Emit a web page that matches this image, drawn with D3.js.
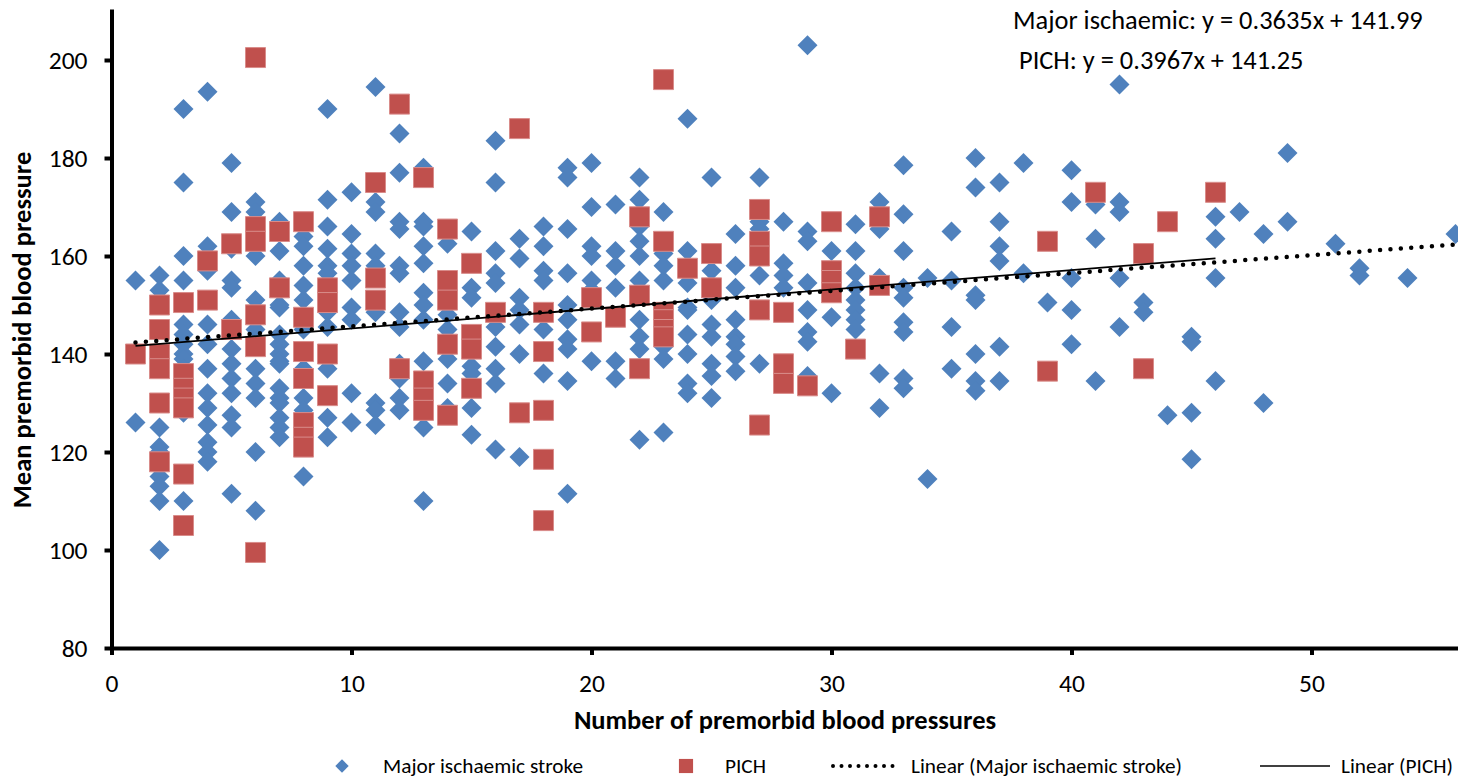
<!DOCTYPE html>
<html>
<head>
<meta charset="utf-8">
<script src="https://cdn.jsdelivr.net/npm/d3@7"></script>
<style>
  body { margin: 0; background: #fff; }
  svg text { font-family: Carlito, "Noto Sans", "Open Sans", sans-serif; fill: #000; }
</style>
</head>
<body>
<svg id="chart" width="1458" height="780"></svg>
<script>
// Major ischaemic stroke: [number of readings, mean BP]
const majorIschaemic = [
  [1,155],[1,126],
  [2,156],[2,153],[2,125],[2,121],[2,120],[2,115],[2,113],[2,110],[2,100],
  [3,190],[3,175],[3,160],[3,155],[3,146],[3,144],[3,142],[3,140],[3,139],[3,137],[3,128],[3,110],
  [4,193.5],[4,162],[4,157],[4,146],[4,142],[4,137],[4,132],[4,129],[4,125.5],[4,122],[4,120],[4,118],
  [5,179],[5,169],[5,161.5],[5,155],[5,153.5],[5,147],[5,141],[5,138],[5,135],[5,132],[5,127.5],[5,125],[5,111.5],
  [6,171],[6,169],[6,160],[6,151],[6,147],[6,145],[6,137],[6,134],[6,131],[6,120],[6,108],
  [7,167],[7,161],[7,155],[7,150],[7,149.5],[7,144],[7,142],[7,140],[7,138.5],[7,138],[7,133],[7,131],[7,130],[7,127],[7,125],[7,123],
  [8,164],[8,162],[8,158],[8,154],[8,151],[8,145],[8,137],[8,131],[8,128.5],[8,115],
  [9,190],[9,171.5],[9,166],[9,161.5],[9,158],[9,156.5],[9,148.5],[9,145.5],[9,137],[9,127],[9,123],
  [10,173],[10,164.5],[10,160.5],[10,158],[10,155],[10,149.5],[10,147],[10,132],[10,126],
  [11,194.5],[11,171],[11,169],[11,160.5],[11,158],[11,148.5],[11,130],[11,128.5],[11,125.5],
  [12,185],[12,177],[12,167],[12,165.5],[12,158],[12,156.5],[12,148.5],[12,145.5],[12,138],[12,135],[12,131],[12,128.5],
  [13,178],[13,167],[13,166],[13,162],[13,158.5],[13,152.5],[13,150],[13,147],[13,138.5],[13,125],[13,110],
  [14,162.5],[14,148],[14,145],[14,139],[14,134],[14,129],
  [15,165],[15,153.5],[15,151.5],[15,137.5],[15,136],[15,129],[15,123.5],
  [16,183.5],[16,175],[16,161],[16,156.5],[16,154.5],[16,145.5],[16,141.5],[16,137],[16,134],[16,120.5],
  [17,163.5],[17,159.5],[17,151.5],[17,149],[17,146],[17,140],[17,119],
  [18,166],[18,162],[18,157],[18,155],[18,145],[18,136],
  [19,178],[19,176],[19,165.5],[19,156.5],[19,150],[19,147],[19,143],[19,141],[19,134.5],[19,111.5],
  [20,179],[20,170],[20,162],[20,160],[20,155],[20,153],[20,138.5],
  [21,170.5],[21,161],[21,158],[21,153.5],[21,138.5],[21,135],
  [22,176],[22,171.5],[22,166],[22,163],[22,160],[22,155],[22,147],[22,143.5],[22,141],[22,122.5],
  [23,169],[23,160.5],[23,158],[23,155],[23,141.5],[23,139],[23,124],
  [24,188],[24,161],[24,154.5],[24,149.5],[24,149],[24,144],[24,140],[24,134],[24,132],
  [25,176],[25,157],[25,151],[25,146],[25,143.5],[25,138],[25,135.5],[25,131],
  [26,164.5],[26,158],[26,153.5],[26,147],[26,143.5],[26,142],[26,139.5],[26,136.5],
  [27,176],[27,167],[27,165.5],[27,156],[27,138],
  [28,167],[28,158.5],[28,156],[28,153.5],
  [29,203],[29,165],[29,163],[29,154.5],[29,149],[29,144.5],[29,142.5],[29,135.5],
  [30,161],[30,147.5],[30,132],
  [31,166.5],[31,161],[31,156.5],[31,153.5],[31,151],[31,149],[31,147],[31,145],
  [32,171],[32,165.5],[32,155.5],[32,136],[32,129],
  [33,178.5],[33,168.5],[33,161],[33,153.5],[33,151.5],[33,146.5],[33,144.5],[33,135],[33,133],
  [34,155.5],[34,114.5],
  [35,165],[35,155],[35,145.5],[35,137],
  [36,180],[36,174],[36,152],[36,151],[36,140],[36,134.5],[36,132.5],
  [37,175],[37,167],[37,162],[37,159],[37,141.5],[37,134.5],
  [38,179],[38,156.5],
  [39,150.5],
  [40,177.5],[40,171],[40,155.5],[40,149],[40,142],
  [41,170.5],[41,163.5],[41,134.5],
  [42,195],[42,171],[42,169],[42,155.5],[42,145.5],
  [43,150.5],[43,148.5],
  [44,127.5],
  [45,143.5],[45,142.5],[45,128],[45,118.5],
  [46,168],[46,163.5],[46,155.5],[46,134.5],
  [47,169],
  [48,164.5],[48,130],
  [49,181],[49,167],
  [51,162.5],
  [52,157.5],[52,156],
  [54,155.5],
  [56,164.5]
];

// PICH: [number of readings, mean BP]
const pich = [
  [1,140],
  [2,150],[2,145],[2,140],[2,137],[2,130],[2,118],
  [3,150.5],[3,136],[3,133],[3,131],[3,129],[3,115.5],[3,105],
  [4,159],[4,151],
  [5,162.5],[5,145],
  [6,200.5],[6,166],[6,163],[6,148],[6,141.5],[6,99.5],
  [7,165],[7,153.5],
  [8,167],[8,147.5],[8,140.5],[8,135],[8,126],[8,123],[8,121],
  [9,153.5],[9,150.5],[9,140],[9,131.5],
  [11,175],[11,155.5],[11,151],
  [12,191],[12,137],
  [13,176],[13,134.5],[13,131],[13,128.5],
  [14,165.5],[14,155],[14,151],[14,142],[14,127.5],
  [15,158.5],[15,144],[15,141],[15,133],
  [16,148.5],
  [17,186],[17,128],
  [18,148.5],[18,140.5],[18,128.5],[18,118.5],[18,106],
  [20,151.5],[20,144.5],
  [21,147.5],
  [22,168],[22,152],[22,137],
  [23,196],[23,163],[23,148.5],[23,147],[23,145],[23,143.5],
  [24,157.5],
  [25,160.5],[25,153.5],
  [27,169.5],[27,163],[27,160],[27,149],[27,125.5],
  [28,148.5],[28,138],[28,134],
  [29,133.5],
  [30,167],[30,157],[30,155],[30,152.5],
  [31,141],
  [32,168],[32,154],
  [39,163],[39,136.5],
  [41,173],
  [43,160.5],[43,137],
  [44,167],
  [46,173]
];

// trendline coefficients as printed on the chart
const majorFit = { slope: 0.3635, intercept: 141.99, from: 1, to: 56 };
const pichFit = { slope: 0.3967, intercept: 141.25, from: 1, to: 46 };

const xTicks = [0, 10, 20, 30, 40, 50];
const yTicks = [80, 100, 120, 140, 160, 180, 200];

const svg = d3.select("#chart");

const x = d3.scaleLinear().domain([0, 56]).range([111.5, 1455.5]);
const y = d3.scaleLinear().domain([80, 210]).range([648, 11]);

const blue = "#4F81BD", red = "#C0504D";

// axes
const yAxis = svg.append("g")
  .attr("transform", "translate(111.5,0)")
  .call(d3.axisLeft(y).tickValues(yTicks).tickSize(7).tickSizeOuter(0).tickPadding(17));
const xAxis = svg.append("g")
  .attr("transform", "translate(0,648)")
  .call(d3.axisBottom(x).tickValues(xTicks).tickSize(7).tickSizeOuter(0).tickPadding(19));

[yAxis, xAxis].forEach(g => {
  g.select(".domain").attr("stroke", "#000").attr("stroke-width", 4).attr("stroke-linecap", "square");
  g.selectAll(".tick line").attr("stroke", "#000").attr("stroke-width", 4);
  g.selectAll(".tick text").style("font-size", "25.5px").attr("fill", "#000");
});

// axis titles
svg.append("text")
  .attr("x", 785).attr("y", 729)
  .attr("text-anchor", "middle")
  .style("font-size", "26.5px").style("font-weight", "bold")
  .text("Number of premorbid blood pressures");

svg.append("text")
  .attr("transform", "translate(31,330) rotate(-90)")
  .attr("text-anchor", "middle")
  .style("font-size", "26.5px").style("font-weight", "bold")
  .text("Mean premorbid blood pressure");

// markers
const diamond = d3.symbol().type(d3.symbolSquare).size(200);
const square = d3.symbol().type(d3.symbolSquare).size(400);

svg.append("g").selectAll("path")
  .data(majorIschaemic)
  .enter()
  .append("path")
  .attr("d", diamond)
  .attr("transform", d => `translate(${x(d[0])},${y(d[1])}) rotate(45)`)
  .attr("fill", blue);

svg.append("g").selectAll("path")
  .data(pich)
  .enter()
  .append("path")
  .attr("d", square)
  .attr("transform", d => `translate(${x(d[0])},${y(d[1])})`)
  .attr("fill", red)
  .attr("stroke", "#D98C8A")
  .attr("stroke-width", 1);

// trendlines
const fitLine = f => [[f.from, f.slope * f.from + f.intercept], [f.to, f.slope * f.to + f.intercept]];
const line = d3.line().x(d => x(d[0])).y(d => y(d[1]));

svg.append("path")
  .attr("d", line(fitLine(majorFit)))
  .attr("fill", "none")
  .attr("stroke", "#000")
  .attr("stroke-width", 4.5)
  .attr("stroke-linecap", "round")
  .attr("stroke-dasharray", "0 10.4");

svg.append("path")
  .attr("d", line(fitLine(pichFit)))
  .attr("fill", "none")
  .attr("stroke", "#000")
  .attr("stroke-width", 1.8);

// equations
svg.append("text").attr("x", 1013).attr("y", 29)
  .style("font-size", "26.4px")
  .text("Major ischaemic: y = 0.3635x + 141.99");
svg.append("text").attr("x", 1019).attr("y", 69)
  .style("font-size", "26.4px")
  .text("PICH: y = 0.3967x + 141.25");

// legend
const legend = svg.append("g").style("font-size", "21.3px");
legend.append("path").attr("d", d3.symbol().type(d3.symbolSquare).size(90))
  .attr("transform", "translate(342,766) rotate(45)").attr("fill", blue);
legend.append("text").attr("x", 383).attr("y", 773).text("Major ischaemic stroke");
legend.append("path").attr("d", d3.symbol().type(d3.symbolSquare).size(200))
  .attr("transform", "translate(686,766)").attr("fill", red);
legend.append("text").attr("x", 725).attr("y", 773).text("PICH");
legend.append("path").attr("d", "M833,766H901")
  .attr("stroke", "#000").attr("stroke-width", 4).attr("stroke-linecap", "round")
  .attr("stroke-dasharray", "0 8.5");
legend.append("text").attr("x", 911).attr("y", 773).text("Linear (Major ischaemic stroke)");
legend.append("path").attr("d", "M1260,766H1330")
  .attr("stroke", "#000").attr("stroke-width", 1.5);
legend.append("text").attr("x", 1341).attr("y", 773).text("Linear (PICH)");
</script>
</body>
</html>
